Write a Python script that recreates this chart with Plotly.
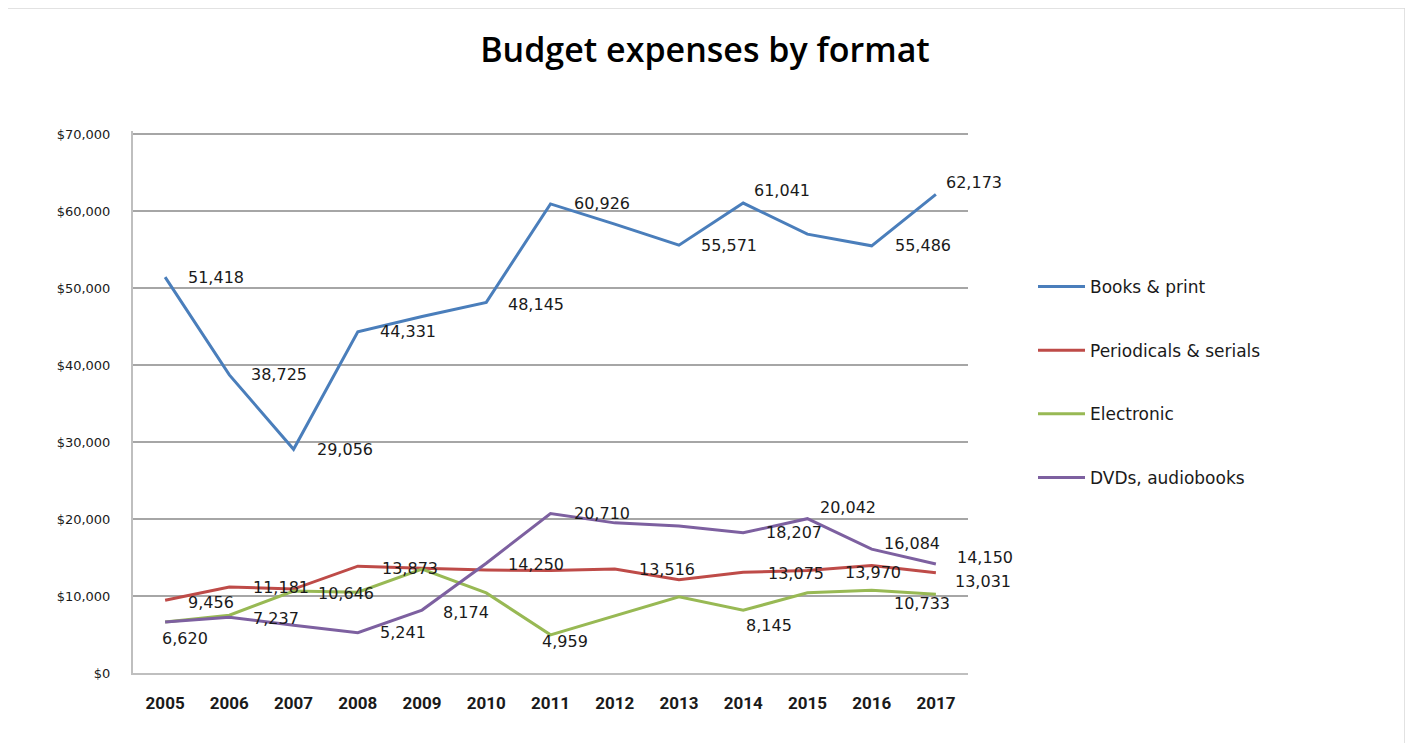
import plotly.graph_objects as go

# ---------------- data ----------------
years = [2005, 2006, 2007, 2008, 2009, 2010, 2011,
         2012, 2013, 2014, 2015, 2016, 2017]
year_labels = [str(y) for y in years]
books = [51418, 38725, 29056, 44331, 46300, 48145, 60926,
         58300, 55571, 61041, 57000, 55486, 62173]
periodicals = [9456, 11181, 10900, 13873, 13600, 13380, 13300,
               13516, 12100, 13075, 13300, 13970, 13031]
electronic = [6620, 7500, 10646, 10500, 13500, 10400, 4959,
              7400, 9900, 8145, 10430, 10733, 10220]
dvds = [6620, 7237, 6200, 5241, 8174, 14250, 20710,
        19500, 19100, 18207, 20042, 16084, 14150]
series_names = ["Books & print", "Periodicals & serials", "Electronic", "DVDs, audiobooks"]
series_values = [books, periodicals, electronic, dvds]
y_ticks = [0, 10000, 20000, 30000, 40000, 50000, 60000, 70000]
DOLLAR = chr(36)
y_tick_text = [DOLLAR + f"{v:,}" for v in y_ticks]

# ---------------- styles ----------------
colors = ["#4A7EBB", "#BE4B48", "#98B954", "#7D60A0"]
# which points carry a data label, and pixel offsets (dx, dy) of the label's left edge
label_offsets = [
    {2005: (21, 0), 2006: (20, 0), 2007: (21, 0), 2008: (20, 0),
     2010: (20, -2), 2011: (21, 0), 2013: (20, 0), 2014: (9, 13),
     2016: (21, 0), 2017: (8, 12)},
    {2005: (21, -2), 2006: (22, -1), 2008: (22, -2), 2012: (22, -1),
     2014: (23, -1), 2016: (-29, -7), 2017: (17, -9)},
    {2005: (-5, -16), 2007: (22, -2), 2011: (-11, -7), 2014: (1, -15),
     2016: (20, -13)},
    {2006: (22, -1), 2008: (20, 0), 2009: (19, -2), 2010: (20, -1),
     2011: (21, 0), 2014: (21, 0), 2015: (11, 11), 2016: (10, 6),
     2017: (19, 7)},
]

fig = go.Figure()
annotations = []
for i, (name, vals) in enumerate(zip(series_names, series_values)):
    fig.add_trace(go.Scatter(
        x=years, y=vals, name=name, mode="lines",
        line=dict(color=colors[i], width=3),
        legendgroup=name, hoverinfo="x+y+name",
    ))
    for yr, (dx, dy) in label_offsets[i].items():
        v = vals[years.index(yr)]
        annotations.append(dict(
            x=yr, y=v, xref="x", yref="y", text=f"{v:,}", showarrow=False,
            xanchor="left", yanchor="middle", xshift=dx, yshift=dy,
            font=dict(family="DejaVu Sans", size=16, color="#1a1a1a"),
        ))

OFF = 8  # page body margin
PW, PH = 1413, 743
W, H = PW - OFF, PH - OFF
YMAX = 70400
# value 0 at page y 673, 70,000 at page y 134
top_page = 673 - (673 - 134) * YMAX / 70000
L, T = 133 - OFF, top_page - OFF
R = W - (968 - OFF)
B = H - (673 - OFF)
pw, ph = W - L - R, H - T - B

def px_x(x):
    return (x - OFF - L) / pw

def px_y(y):
    return (H - B - (y - OFF)) / ph

fig.update_layout(
    width=W, height=H,
    margin=dict(l=L, r=R, t=T, b=B, pad=0),
    paper_bgcolor="white", plot_bgcolor="white",
    title=dict(text="Budget expenses by format", x=(705 - OFF) / W, xref="container",
               xanchor="center", y=1 - (50 - OFF) / H, yref="container", yanchor="middle",
               font=dict(family="Open Sans", size=34, color="#000000", weight=600)),
    showlegend=True,
    legend=dict(x=px_x(1033), y=px_y(269), xanchor="left", yanchor="top",
                font=dict(family="DejaVu Sans", size=17, color="#1a1a1a"),
                tracegroupgap=38.5, itemwidth=47, bgcolor="rgba(0,0,0,0)"),
    annotations=annotations,
    shapes=[dict(type="rect", xref="paper", yref="paper",
                 x0=px_x(7), x1=px_x(1405), y0=px_y(750), y1=px_y(8),
                 line=dict(color="#D9D9D9", width=1.5), fillcolor="rgba(0,0,0,0)",
                 layer="below")],
)
fig.update_xaxes(type="linear", range=[2004.5, 2017.5], tickvals=years,
                 ticktext=year_labels, showgrid=False,
                 showline=True, linecolor="#BFBFBF", linewidth=2, ticks="",
                 ticklabelstandoff=14, zeroline=False,
                 tickfont=dict(family="Liberation Sans Narrow, Roboto", size=17,
                               color="#1a1a1a", weight="bold"))
fig.update_yaxes(range=[0, YMAX], tickvals=y_ticks, ticktext=y_tick_text,
                 showgrid=True, gridcolor="#A6A6A6", gridwidth=1.5,
                 showline=True, linecolor="#BFBFBF", linewidth=2, ticks="",
                 zeroline=False, ticklabelstandoff=18,
                 tickfont=dict(family="DejaVu Sans", size=13, color="#1a1a1a"))

fig.write_html("out.html")
